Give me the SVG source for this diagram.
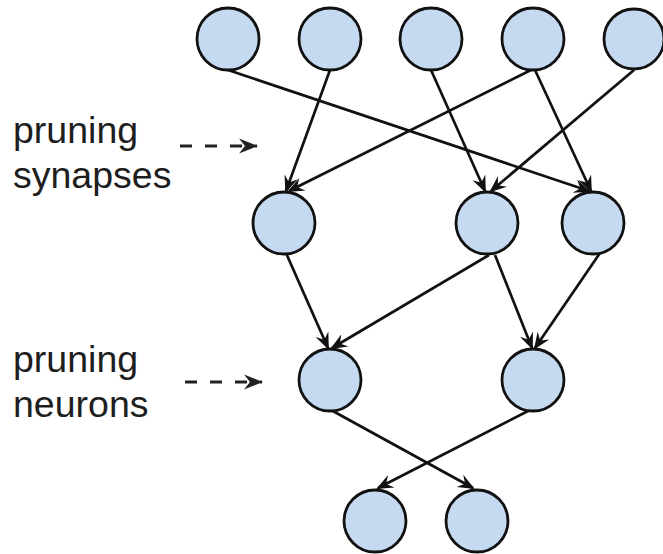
<svg xmlns="http://www.w3.org/2000/svg" width="663" height="554" viewBox="0 0 663 554">
<style>
.node circle{fill:#c5d9f0;stroke:#111;stroke-width:2.8}
.edge{stroke:#111;stroke-width:2.7;fill:none;marker-end:url(#ah)}
.dash{stroke:#222;stroke-width:3;fill:none;stroke-dasharray:12 13;}
.lbl{font-family:"Liberation Sans",Arial,sans-serif;font-size:37.5px;fill:#1e1e1e}
</style>
<defs>
<marker id="ah" viewBox="-17 -8 19 16" refX="-2" refY="0" markerWidth="19" markerHeight="16" markerUnits="userSpaceOnUse" orient="auto">
<path d="M0,0 L-17,-7 L-11,0 L-17,7 Z" fill="#111"/>
</marker>
<marker id="ah2" viewBox="-20 -9 21 18" refX="-1" refY="0" markerWidth="21" markerHeight="18" markerUnits="userSpaceOnUse" orient="auto">
<path d="M0,0 L-19,-7.5 L-13,0 L-19,7.5 Z" fill="#222"/>
</marker>
</defs>
<rect width="663" height="554" fill="#fff"/>
<g id="labels">
<text class="lbl" x="13" y="143">pruning</text>
<text class="lbl" x="13" y="188">synapses</text>
<text class="lbl" x="13" y="372">pruning</text>
<text class="lbl" x="13" y="417">neurons</text>
<path class="dash" d="M180,146 H257" marker-end="url(#ah2)"/>
<path class="dash" d="M185,382 H262" marker-end="url(#ah2)"/>
</g>
<g id="connectors">
<path class="edge" d="M228,70 L589,191"/>
<path class="edge" d="M330,70 L286,191"/>
<path class="edge" d="M431,70 L485,191"/>
<path class="edge" d="M531,70 L289,191"/>
<path class="edge" d="M535,70 L591,191"/>
<path class="edge" d="M634,70 L491,191"/>
<path class="edge" d="M286,253 L328,348"/>
<path class="edge" d="M489,255 L332,348"/>
<path class="edge" d="M495,255 L532,348"/>
<path class="edge" d="M600,253 L535,348"/>
<path class="edge" d="M331,410 L473,488"/>
<path class="edge" d="M530,410 L378,488"/>
</g>
<g id="n1" class="node"><circle cx="228" cy="39" r="31"/></g>
<g id="n2" class="node"><circle cx="330" cy="39" r="31"/></g>
<g id="n3" class="node"><circle cx="431" cy="39" r="31"/></g>
<g id="n4" class="node"><circle cx="533" cy="39" r="31"/></g>
<g id="n5" class="node"><circle cx="634" cy="39" r="30"/></g>
<g id="n6" class="node"><circle cx="284" cy="223" r="31"/></g>
<g id="n7" class="node"><circle cx="487" cy="223" r="31"/></g>
<g id="n8" class="node"><circle cx="593" cy="223" r="31"/></g>
<g id="n9" class="node"><circle cx="330" cy="380" r="31"/></g>
<g id="n10" class="node"><circle cx="533" cy="380" r="31"/></g>
<g id="n11" class="node"><circle cx="375" cy="521" r="31"/></g>
<g id="n12" class="node"><circle cx="477" cy="521" r="31"/></g>
</svg>
